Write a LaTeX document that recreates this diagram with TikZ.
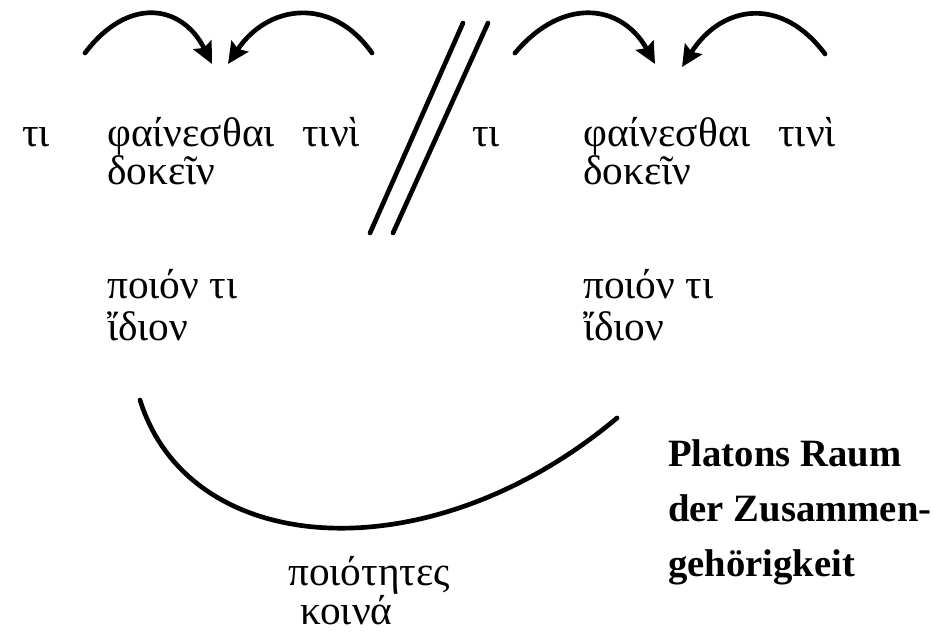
\documentclass[tikz,border=0pt]{standalone}
\usepackage{fontspec}
\usepackage{tikz}
\usetikzlibrary{arrows.meta, positioning, calc}
\setmainfont{Liberation Serif}
\definecolor{InkBlack}{RGB}{0,0,0}

\begin{document}
\begin{tikzpicture}[
  x=0.75pt, y=-0.75pt,
  greek/.style={anchor=base west, inner sep=0pt, font=\fontsize{31}{36}\selectfont},
  heading/.style={anchor=base west, inner sep=0pt, font=\fontsize{29}{40}\selectfont\bfseries},
  curvearrow/.style={-{Stealth[length=16pt, width=15pt, inset=2.5pt]}, draw=InkBlack, line width=3.5pt, line cap=round},
  stroke/.style={draw=InkBlack, line width=3.5pt, line cap=round}
]
\useasboundingbox (0,0) rectangle (933,632);

% left half
\node[greek] (tiL) at (22,146) {τι};
\node[greek] (phainL) at (107,146) {φαίνεσθαι};
\node[greek] (tiniL) at (302,146) {τινὶ};
\node[greek] (dokL) at (107,184) {δοκεῖν};
\node[greek] (poionL) at (107,298) {ποιόν τι};
\node[greek] (idionL) at (107,340) {ἴδιον};

% right half
\node[greek] (tiR) at (472,146) {τι};
\node[greek] (phainR) at (583,146) {φαίνεσθαι};
\node[greek] (tiniR) at (778,146) {τινὶ};
\node[greek] (dokR) at (583,184) {δοκεῖν};
\node[greek] (poionR) at (583,298) {ποιόν τι};
\node[greek] (idionR) at (583,340) {ἴδιον};

% bottom
\node[greek] (poiot) at (288,585) {ποιότητες};
\node[greek] (koina) at (300,624) {κοινά};
\node[heading] (raum1) at (668,466) {Platons Raum};
\node[heading] (raum2) at (668,521) {der Zusammen-};
\node[heading] (raum3) at (668,576) {gehörigkeit};

% arrow ends
\coordinate (fromLa) at (85,53);
\coordinate (toLa) at (212,64);
\coordinate (fromLb) at (372,53);
\coordinate (toLb) at (228,64);
\coordinate (fromRa) at (515,53);
\coordinate (toRa) at (655,64);
\coordinate (fromRb) at (825,54);
\coordinate (toRb) at (682,67);

\draw[curvearrow] (fromLa) .. controls (128,-4) and (182,4) .. (toLa);
\draw[curvearrow] (fromLb) .. controls (332,-4) and (268,4) .. (toLb);
\draw[curvearrow] (fromRa) .. controls (563,-4) and (622,4) .. (toRa);
\draw[curvearrow] (fromRb) .. controls (782,-4) and (722,4) .. (toRb);

% double slash
\coordinate (slashAtop) at (463,23);
\coordinate (slashAbot) at (370,233);
\coordinate (slashBtop) at (488,23);
\coordinate (slashBbot) at (393,233);
\draw[stroke] (slashAtop) -- (slashAbot);
\draw[stroke] (slashBtop) -- (slashBbot);

% arc under the idion pair
\coordinate (arcL) at (140,400);
\coordinate (arcR) at (617,418);
\draw[stroke] (arcL) .. controls (190,560) and (430,575) .. (arcR);
\end{tikzpicture}
\end{document}
